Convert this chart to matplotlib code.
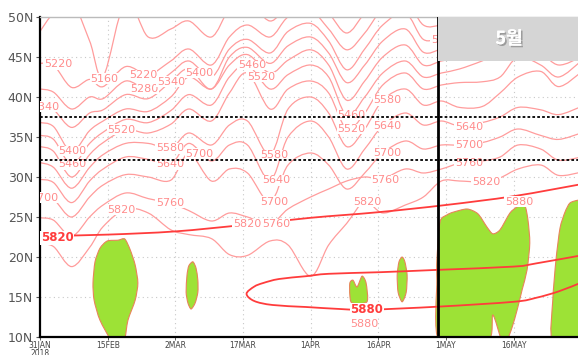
import matplotlib
matplotlib.use("Agg")
import matplotlib.pyplot as plt
import matplotlib.patheffects as pe
from matplotlib.patches import PathPatch, Rectangle
from matplotlib.path import Path

# ---------------- data ----------------
days = [0, 3, 7, 11, 14, 19, 24, 29, 33, 38, 42, 46, 51, 55, 60, 64, 68, 72, 76, 81, 85, 89, 93, 98, 102, 106, 111, 115, 120]

h5160 = [48.2, 50.5, 52.0, 47.0, 42.6, 52.0, 47.5, 48.5, 49.5, 47.5, 51.0, 52.0, 49.5, 51.5, 52.5, 50.5, 48.0, 50.5, 53.0, 54.0, 50.5, 51.0, 51.5, 52.0, 53.0, 54.0, 53.0, 51.5, 52.5]
h5220 = [44.2, 44.0, 41.2, 42.2, 41.3, 43.8, 42.8, 44.5, 46.0, 44.0, 47.5, 49.0, 47.5, 50.0, 50.8, 48.5, 45.9, 48.0, 51.0, 52.0, 49.0, 49.0, 49.5, 50.5, 51.5, 52.5, 51.5, 50.0, 51.0]
h5280 = [41.0, 40.6, 38.5, 40.0, 39.8, 42.0, 41.0, 43.0, 44.5, 42.5, 46.0, 47.2, 45.5, 48.2, 49.2, 47.0, 43.4, 46.0, 49.0, 50.5, 47.2, 47.5, 48.0, 49.0, 50.0, 51.0, 50.0, 48.5, 49.5]
h5340 = [38.8, 38.4, 36.2, 38.0, 38.4, 40.3, 39.8, 41.9, 43.5, 41.0, 45.0, 46.2, 44.2, 46.4, 47.5, 45.5, 41.8, 44.0, 47.0, 48.5, 45.6, 46.0, 46.5, 47.5, 48.5, 49.5, 48.5, 47.0, 48.0]
h5400 = [36.8, 36.3, 33.2, 35.8, 37.0, 38.5, 38.2, 40.0, 42.5, 41.0, 44.0, 45.3, 43.0, 44.6, 45.9, 44.0, 39.6, 42.0, 45.0, 46.5, 44.0, 44.5, 45.0, 46.0, 47.0, 48.0, 47.0, 45.5, 46.5]
h5460 = [35.2, 34.7, 31.6, 34.2, 35.6, 37.2, 36.8, 38.3, 40.3, 39.0, 42.5, 44.0, 41.0, 42.8, 44.0, 42.5, 37.7, 40.0, 43.0, 44.5, 42.5, 43.0, 43.5, 44.5, 45.5, 46.5, 45.5, 44.0, 45.0]
h5520 = [33.8, 33.2, 30.0, 32.8, 34.3, 35.9, 35.5, 36.6, 38.5, 37.0, 40.5, 43.0, 38.5, 41.0, 42.0, 40.5, 36.0, 38.0, 41.5, 43.0, 41.0, 41.5, 41.8, 41.9, 42.5, 45.0, 44.0, 42.5, 44.5]
h5580 = [31.8, 31.2, 28.6, 31.2, 32.8, 34.2, 34.2, 33.6, 35.5, 34.0, 36.5, 37.0, 32.8, 38.5, 40.0, 38.0, 33.8, 36.0, 39.6, 41.0, 39.0, 39.5, 38.7, 38.8, 40.5, 42.5, 43.2, 41.3, 43.1]
h5640 = [29.7, 29.3, 26.8, 29.5, 31.0, 32.5, 32.2, 31.6, 34.2, 32.0, 34.0, 34.0, 29.6, 35.0, 37.0, 35.0, 31.0, 33.5, 36.4, 38.0, 36.5, 37.0, 36.4, 36.8, 37.5, 38.7, 38.4, 37.8, 38.8]
h5700 = [27.4, 27.2, 25.0, 27.5, 29.0, 30.3, 30.0, 29.6, 32.9, 29.5, 31.0, 30.5, 26.9, 31.5, 33.0, 31.5, 28.5, 30.5, 33.0, 34.5, 33.5, 34.0, 34.0, 34.3, 35.0, 36.0, 35.2, 34.7, 35.5]
h5760 = [24.9, 24.6, 22.6, 25.0, 26.5, 28.0, 27.3, 26.7, 25.8, 24.5, 25.5, 25.0, 24.1, 26.0, 27.5, 28.5, 29.5, 30.0, 29.8, 31.0, 30.5, 31.0, 31.7, 32.0, 32.5, 34.0, 33.5, 32.1, 32.5]
h5820 = [21.6, 21.3, 18.8, 21.2, 23.8, 26.0, 25.5, 23.4, 22.8, 22.3, 20.3, 20.2, 22.0, 21.5, 17.6, 21.5, 24.2, 26.9, 25.5, 26.5, 27.5, 29.5, 29.5, 29.4, 29.9, 31.0, 31.5, 30.2, 30.6]

levels = [5160, 5220, 5280, 5340, 5400, 5460, 5520, 5580, 5640, 5700, 5760, 5820]
contour_lats = [h5160, h5220, h5280, h5340, h5400, h5460, h5520, h5580, h5640, h5700, h5760, h5820]

# climatological 5820 line and 5880 closed contour
clim5820_days = [0, 15, 30, 45, 60, 75, 90, 105, 120]
clim5820_lats = [22.6, 22.8, 23.2, 24.0, 24.9, 25.6, 26.5, 27.6, 29.1]
clim5880_days = [120, 110, 105, 88.5, 75.4, 64, 59, 53, 49.5, 47.5, 45.8, 47.5, 51.6, 59, 66.5, 72.5, 88.5, 105, 110, 115, 120]
clim5880_lats = [20.2, 19.2, 18.8, 18.4, 18.1, 17.9, 17.6, 17.25, 16.75, 16.3, 15.4, 14.5, 14.0, 13.75, 13.5, 13.4, 13.8, 14.4, 14.9, 15.7, 16.8]

# 2018 areas above 5880 gpm (green)
blob1_days = [14.9, 17.3, 18.8, 20.0, 21.1, 21.7, 21.1, 19.5, 18.6, 16.0, 13.3, 12.0, 11.75, 12.2, 13.3]
blob1_lats = [22.0, 22.1, 22.25, 20.9, 19.0, 16.75, 14.6, 12.1, 9.5, 9.5, 12.1, 14.6, 16.75, 19.4, 21.1]
blob2_days = [33.9, 34.6, 35.0, 35.0, 34.4, 33.5, 32.8, 32.4, 32.6, 33.0]
blob2_lats = [19.4, 18.6, 17.1, 15.6, 14.25, 13.5, 14.25, 15.6, 17.75, 18.9]
blob3_days = [68.7, 69.4, 70.3, 71.4, 72.3, 72.5, 69.2, 68.7]
blob3_lats = [16.75, 17.1, 16.25, 17.6, 16.75, 14.4, 14.25, 15.25]
blob4_days = [80.3, 80.9, 81.4, 81.2, 80.3, 79.4, 79.2, 79.6]
blob4_lats = [20.0, 19.4, 17.75, 15.6, 14.4, 15.6, 17.75, 19.4]
blob5_days = [88.7, 90.2, 91.6, 94.7, 97.1, 99.1, 100.4, 102.0, 104.2, 105.8, 107.5, 108.2, 108.6, 108.0, 106.9, 105.8, 104.7, 103.5, 102.4, 100.4, 99.3, 88.5, 88.0, 88.0]
blob5_lats = [24.4, 25.25, 25.6, 26.0, 25.4, 23.75, 22.9, 23.4, 25.5, 26.25, 26.4, 24.6, 21.75, 18.4, 15.9, 13.4, 11.25, 9.5, 9.5, 12.75, 9.5, 9.5, 17.1, 19.6]
blob6_days = [113.7, 113.7, 114.4, 115.3, 116.4, 117.5, 119.3, 121.0, 121.0]
blob6_lats = [9.5, 14.6, 19.6, 23.6, 25.6, 26.75, 27.1, 27.1, 9.5]
blobs = [(blob1_days, blob1_lats), (blob2_days, blob2_lats), (blob3_days, blob3_lats),
         (blob4_days, blob4_lats), (blob5_days, blob5_lats), (blob6_days, blob6_lats)]

# contour labels: (text, day, lat)
label_text = ["5220", "5160", "5220", "5280", "5340", "5400", "5460", "5520", "5340",
              "5520", "5400", "5460", "5580", "5640", "5700", "5580", "5640", "5700",
              "5760", "5820", "5460", "5520", "5580", "5640", "5700", "5760", "5580",
              "5640", "5700", "5760", "5820", "5880", "5820", "5700", "5820", "5760", "5880"]
label_day = [4.0, 14.2, 22.8, 23.1, 29.0, 35.3, 47.0, 49.0, 1.2,
             18.0, 7.1, 7.1, 28.8, 28.8, 35.3, 51.9, 52.3, 51.9,
             52.3, 45.9, 69.0, 69.0, 77.0, 77.0, 77.0, 76.5, 89.8,
             95.1, 95.1, 95.1, 98.9, 106.2, 72.5, 1.0, 18.0, 28.8, 71.8]
label_lat = [44.1, 42.3, 42.75, 41.0, 41.9, 43.0, 44.0, 42.5, 38.8,
             35.9, 33.25, 31.6, 33.6, 31.6, 32.9, 32.75, 29.6, 26.9,
             24.1, 24.1, 37.75, 36.0, 39.6, 36.4, 33.0, 29.6, 47.1,
             36.25, 34.0, 31.75, 29.4, 26.9, 26.9, 27.4, 25.9, 26.75, 11.6]
bold_label_text = ["5820", "5880"]
bold_label_day = [3.8, 72.5]
bold_label_lat = [22.4, 13.4]

hlines_lat = [37.55, 32.1]
may_line_day = 88.3
xtick_days = [0, 15, 30, 45, 60, 75, 90, 105]
xtick_labels = ["31JAN\n2018", "15FEB", "2MAR", "17MAR", "1APR", "16APR", "1MAY", "16MAY"]
ytick_lats = [10, 15, 20, 25, 30, 35, 40, 45, 50]
ytick_labels = ["10N", "15N", "20N", "25N", "30N", "35N", "40N", "45N", "50N"]
box_text = "5월"


# ---------------- helpers ----------------
def curve_path(xs, ys, closed=False, k=6.0):
    """Cubic Bezier path passing through every given point (Catmull-Rom tangents)."""
    pts = list(zip(xs, ys))
    n = len(pts)

    def p(i):
        if closed:
            return pts[i % n]
        return pts[min(max(i, 0), n - 1)]

    verts = [pts[0]]
    codes = [Path.MOVETO]
    segs = n if closed else n - 1
    for i in range(segs):
        a, b, c, d = p(i - 1), p(i), p(i + 1), p(i + 2)
        c1 = (b[0] + (c[0] - a[0]) / k, b[1] + (c[1] - a[1]) / k)
        c2 = (c[0] - (d[0] - b[0]) / k, c[1] - (d[1] - b[1]) / k)
        verts += [c1, c2, c]
        codes += [Path.CURVE4] * 3
    return Path(verts, codes)


# ---------------- drawing ----------------
plt.rcParams['font.family'] = ['DejaVu Sans']
W, H = 578, 355
fig = plt.figure(figsize=(W / 100, H / 100), dpi=100)
x0, x1 = 40, 580
y0, y1 = 337, 17
ax = fig.add_axes([x0 / W, (H - y0) / H, (x1 - x0) / W, (y0 - y1) / H])
ax.set_xlim(0, (x1 - x0) / 4.51)
ax.set_ylim(10, 50)

line_col = '#ff9c9c'
bold_col = '#ff3c3c'
green = '#9de236'

# grid
for d in xtick_days[1:]:
    ax.axvline(d, color='#c8c8c8', lw=0.8, ls=(0, (1, 3)), zorder=0)
for la in ytick_lats[1:-1]:
    ax.axhline(la, color='#c8c8c8', lw=0.8, ls=(0, (1, 3)), zorder=0)

# green areas
for bd, bl in blobs:
    ax.add_patch(PathPatch(curve_path(bd, bl, closed=True, k=8.0), facecolor=green,
                           edgecolor='#e8845a', lw=0.8, zorder=1))

# 2018 contours
for lv, lats in zip(levels, contour_lats):
    ax.add_patch(PathPatch(curve_path(days, lats), facecolor='none',
                           edgecolor=line_col, lw=0.9, zorder=2))

# climatology
ax.add_patch(PathPatch(curve_path(clim5820_days, clim5820_lats), facecolor='none',
                       edgecolor=bold_col, lw=1.3, zorder=3))
ax.add_patch(PathPatch(curve_path(clim5880_days, clim5880_lats), facecolor='none',
                       edgecolor=bold_col, lw=1.3, zorder=3))

# labels
for t, d, la in zip(label_text, label_day, label_lat):
    ax.text(d, la, t, color='#ff8c8c', fontsize=8, ha='center', va='center', zorder=4,
            bbox=dict(facecolor='white', edgecolor='none', pad=0.3), clip_on=True)
for t, d, la in zip(bold_label_text, bold_label_day, bold_label_lat):
    ax.text(d, la, t, color=bold_col, fontsize=8.5, ha='center', va='center', zorder=4,
            fontweight='bold',
            bbox=dict(facecolor='white', edgecolor='none', pad=0.3), clip_on=True)

# reference lines
for la in hlines_lat:
    ax.axhline(la, color='black', lw=1.3, ls=(0, (1.5, 1.2)), zorder=5)
ax.axvline(may_line_day, color='black', lw=2.0, zorder=6)

# May box
ax.add_patch(Rectangle((may_line_day, 44.5), 40, 5.5, facecolor='#d5d5d5',
                       edgecolor='none', zorder=7))
ax.text((may_line_day + ax.get_xlim()[1]) / 2, 47.3, box_text, color='white',
        fontsize=13, fontweight='bold', ha='center', va='center', zorder=8,
        family=['Noto Sans CJK KR', 'DejaVu Sans'],
        path_effects=[pe.withSimplePatchShadow(offset=(1.2, -1.2), shadow_rgbFace='#777777', alpha=0.6), pe.Normal()])

# axes styling
ax.set_xticks(xtick_days)
ax.set_xticklabels(xtick_labels, fontsize=5.5, color='#444444', linespacing=0.8)
ax.set_yticks(ytick_lats)
ax.set_yticklabels(ytick_labels, fontsize=9, color='#555555')
ax.tick_params(axis='x', length=2, width=0.6, pad=1, colors='#444444')
ax.tick_params(axis='y', length=3, width=0.8, pad=2, colors='#555555')
ax.spines['left'].set_linewidth(1.6)
ax.spines['bottom'].set_linewidth(1.6)
ax.spines['top'].set_color('#bbbbbb')
ax.spines['top'].set_linewidth(1.0)
ax.spines['right'].set_visible(False)

fig.savefig('out.png', dpi=100)
